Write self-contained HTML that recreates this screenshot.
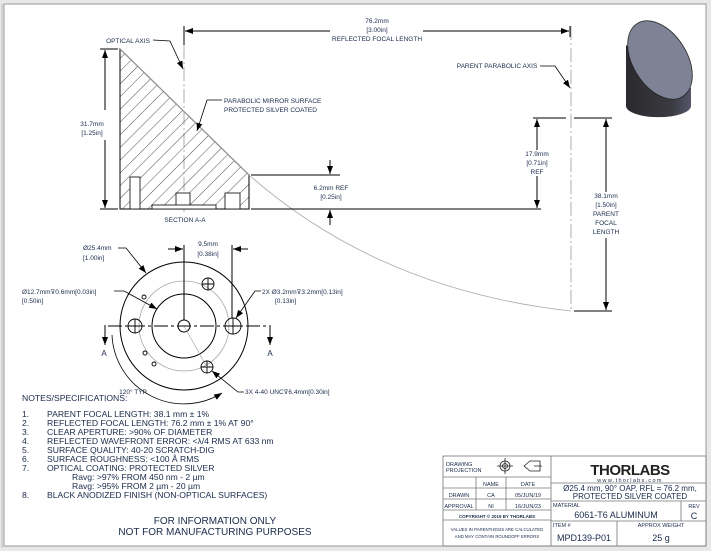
<!DOCTYPE html>
<html><head><meta charset="utf-8"><style>
body{margin:0;background:#fff;}
svg{display:block;font-family:"Liberation Sans",sans-serif;}
</style></head><body>
<svg width="711" height="551" viewBox="0 0 711 551" xmlns="http://www.w3.org/2000/svg">
<defs>
<pattern id="h" width="9" height="9" patternUnits="userSpaceOnUse" patternTransform="rotate(45)">
<line x1="0" y1="0" x2="0" y2="9" stroke="#222" stroke-width="0.8"/>
</pattern>
<marker id="a" markerWidth="8" markerHeight="6" refX="8" refY="3" orient="auto" markerUnits="userSpaceOnUse"><path d="M0,0L8,3L0,6z" fill="#000"/></marker>
<linearGradient id="cyl" x1="0" x2="1"><stop offset="0" stop-color="#2a2a2e"/><stop offset="0.7" stop-color="#3a3a40"/><stop offset="1" stop-color="#55556a"/></linearGradient>
</defs>
<rect width="711" height="551" fill="#e8e8e8"/>
<rect x="4" y="4" width="702" height="542" fill="#fff" stroke="#999" stroke-width="1"/>
<line x1="2" y1="4" x2="2" y2="548" stroke="#bbb"/>

<g font-size="6.5" fill="#1a2a4a" text-anchor="middle">
<!-- top dim -->
<line x1="184" y1="26" x2="184" y2="45" stroke="#000"/>
<line x1="570" y1="26" x2="570" y2="37" stroke="#000"/>
<line x1="330" y1="31" x2="185" y2="31" stroke="#000" marker-end="url(#a)"/>
<line x1="423" y1="31" x2="569" y2="31" stroke="#000" marker-end="url(#a)"/>
<text x="377" y="23">76.2mm</text><text x="377" y="32">[3.00in]</text><text x="377" y="41">REFLECTED FOCAL LENGTH</text>
<!-- optical axis -->
<line x1="184" y1="45" x2="184" y2="212" stroke="#999" stroke-dasharray="14,3,2,3" stroke-width="0.8"/>
<text x="128" y="43">OPTICAL AXIS</text>
<polyline points="153,40 170,41 183,69" fill="none" stroke="#000" stroke-width="0.8" marker-end="url(#a)"/>
<!-- section -->
<path d="M120,49 L249,175 L249,209 L120,209 Z" fill="url(#h)" stroke="#000" stroke-width="1"/>
<rect x="130" y="177" width="10" height="32" fill="#fff" stroke="#000" stroke-width="0.8"/>
<rect x="176" y="193" width="14" height="14" fill="#fff" stroke="#000" stroke-width="0.8"/>
<rect x="152" y="205" width="64" height="4" fill="#fff" stroke="#000" stroke-width="0.8"/>
<rect x="225" y="193" width="15" height="16" fill="#fff" stroke="#000" stroke-width="0.8"/>
<line x1="120" y1="49" x2="249" y2="175" stroke="#999" stroke-width="1.2"/>
<text x="185" y="222">SECTION A-A</text>
<polyline points="222,100 207,100 197,131" fill="none" stroke="#000" stroke-width="0.8" marker-end="url(#a)"/>
<text x="224" y="103" text-anchor="start">PARABOLIC MIRROR SURFACE</text>
<text x="224" y="112" text-anchor="start">PROTECTED SILVER COATED</text>
<!-- 31.7 dim -->
<line x1="100" y1="49" x2="118" y2="49" stroke="#000"/>
<line x1="100" y1="209" x2="118" y2="209" stroke="#000"/>
<line x1="105" y1="110" x2="105" y2="50" stroke="#000" marker-end="url(#a)"/>
<line x1="105" y1="140" x2="105" y2="208" stroke="#000" marker-end="url(#a)"/>
<text x="92" y="126">31.7mm</text><text x="92" y="135">[1.25in]</text>
<!-- parabola -->
<path d="M249,175 Q380,290 571,311" fill="none" stroke="#aaa" stroke-width="0.8"/>
<!-- ext lines -->
<line x1="251" y1="209" x2="541" y2="209" stroke="#000"/>
<line x1="251" y1="175" x2="340" y2="175" stroke="#000"/>
<line x1="533" y1="118" x2="566" y2="118" stroke="#000"/>
<line x1="574" y1="118" x2="612" y2="118" stroke="#000"/>
<line x1="574" y1="311" x2="612" y2="311" stroke="#000"/>
<line x1="330" y1="160" x2="330" y2="174" stroke="#000" marker-end="url(#a)"/>
<line x1="330" y1="225" x2="330" y2="210" stroke="#000" marker-end="url(#a)"/>
<text x="331" y="190">6.2mm REF</text><text x="331" y="199">[0.25in]</text>
<line x1="537" y1="150" x2="537" y2="119" stroke="#000" marker-end="url(#a)"/>
<line x1="537" y1="176" x2="537" y2="208" stroke="#000" marker-end="url(#a)"/>
<text x="537" y="156">17.9mm</text><text x="537" y="165">[0.71in]</text><text x="537" y="174">REF</text>
<line x1="606" y1="192" x2="606" y2="119" stroke="#000" marker-end="url(#a)"/>
<line x1="606" y1="238" x2="606" y2="310" stroke="#000" marker-end="url(#a)"/>
<text x="606" y="198">38.1mm</text><text x="606" y="207">[1.50in]</text><text x="606" y="216">PARENT</text><text x="606" y="225">FOCAL</text><text x="606" y="234">LENGTH</text>
<line x1="571" y1="26" x2="571" y2="311" stroke="#999" stroke-dasharray="14,3,2,3" stroke-width="0.8"/>
<text x="497" y="68">PARENT PARABOLIC AXIS</text>
<polyline points="540,66 555,66 570,88" fill="none" stroke="#000" stroke-width="0.8" marker-end="url(#a)"/>
<!-- cylinder -->
<path d="M626,45 L626,106 A32,11 0 0 0 691,106 L691,88 Z" fill="url(#cyl)"/>
<ellipse cx="660" cy="60" rx="27" ry="43" transform="rotate(-32 660 60)" fill="#7e8295" stroke="#222" stroke-width="0.8"/>

<!-- bottom view -->
<circle cx="184" cy="326" r="64" fill="none" stroke="#000"/>
<circle cx="184" cy="326" r="45" fill="none" stroke="#aaa" stroke-width="0.8"/>
<circle cx="184" cy="326" r="32" fill="none" stroke="#000"/>
<circle cx="184" cy="326" r="6" fill="none" stroke="#000"/>
<g fill="none" stroke="#000" stroke-width="0.9">
<circle cx="135" cy="326" r="7"/><circle cx="233" cy="326" r="8"/>
<circle cx="208" cy="284" r="6"/><circle cx="207" cy="367" r="6"/>
<path d="M128,326h14M135,319v14M225,326h16M233,318v16M202,284h12M208,278v12M201,367h12M207,361v12"/>
<circle cx="144" cy="297" r="2"/><circle cx="145" cy="353" r="2"/><circle cx="154" cy="364" r="2"/>
</g>
<line x1="184" y1="326" x2="207" y2="367" stroke="#aaa" stroke-width="0.7"/>
<line x1="108" y1="326" x2="268" y2="326" stroke="#000" stroke-dasharray="14,3,3,3" stroke-width="0.9"/>
<line x1="105" y1="325" x2="105" y2="345" stroke="#000" marker-end="url(#a)"/>
<line x1="270" y1="325" x2="270" y2="345" stroke="#000" marker-end="url(#a)"/>
<text x="104" y="356" font-size="8">A</text><text x="270" y="356" font-size="8">A</text>
<line x1="184" y1="245" x2="184" y2="320" stroke="#000"/>
<line x1="232" y1="245" x2="232" y2="318" stroke="#000"/>
<line x1="168" y1="249" x2="183" y2="249" stroke="#000" marker-end="url(#a)"/>
<line x1="248" y1="249" x2="233" y2="249" stroke="#000" marker-end="url(#a)"/>
<text x="208" y="246">9.5mm</text><text x="208" y="256">[0.38in]</text>
<text x="83" y="250" text-anchor="start">Ø25.4mm</text><text x="83" y="260" text-anchor="start">[1.00in]</text>
<polyline points="118,248 126,248 146,273" fill="none" stroke="#000" stroke-width="0.8" marker-end="url(#a)"/>
<text x="22" y="294" text-anchor="start">Ø12.7mm⊽0.6mm[0.03in]</text><text x="22" y="303" text-anchor="start">[0.50in]</text>
<polyline points="114,291 124,291 157,309" fill="none" stroke="#000" stroke-width="0.8" marker-end="url(#a)"/>
<text x="262" y="294" text-anchor="start">2X  Ø3.2mm⊽3.2mm[0.13in]</text><text x="275" y="303" text-anchor="start">[0.13in]</text>
<polyline points="261,291 255,291 236,318" fill="none" stroke="#000" stroke-width="0.8" marker-end="url(#a)"/>
<text x="245" y="394" text-anchor="start">3X 4-40 UNC⊽6.4mm[0.30in]</text>
<polyline points="244,392 238,392 212,371" fill="none" stroke="#000" stroke-width="0.8" marker-end="url(#a)"/>
<path d="M112,335 A72,72 0 0 0 222,393" fill="none" stroke="#000" stroke-width="0.8" marker-end="url(#a)"/>
<text x="133" y="394">120° TYP</text>
</g>

<g font-size="8.6" fill="#1a2a4a">
<text x="22" y="401">NOTES/SPECIFICATIONS:</text>
<text x="22" y="417">1.</text><text x="47" y="417">PARENT FOCAL LENGTH: 38.1 mm ± 1%</text>
<text x="22" y="426">2.</text><text x="47" y="426">REFLECTED FOCAL LENGTH: 76.2 mm ± 1% AT 90°</text>
<text x="22" y="435">3.</text><text x="47" y="435">CLEAR APERTURE: &gt;90% OF DIAMETER</text>
<text x="22" y="444">4.</text><text x="47" y="444">REFLECTED WAVEFRONT ERROR: &lt;λ/4 RMS AT 633 nm</text>
<text x="22" y="453">5.</text><text x="47" y="453">SURFACE QUALITY: 40-20 SCRATCH-DIG</text>
<text x="22" y="462">6.</text><text x="47" y="462">SURFACE ROUGHNESS: &lt;100 Å RMS</text>
<text x="22" y="471">7.</text><text x="47" y="471">OPTICAL COATING: PROTECTED SILVER</text>
<text x="72" y="480">Ravg: &gt;97% FROM 450 nm - 2 µm</text>
<text x="72" y="489">Ravg: &gt;95% FROM 2 µm - 20 µm</text>
<text x="22" y="498">8.</text><text x="47" y="498">BLACK ANODIZED FINISH (NON-OPTICAL SURFACES)</text>
<text x="215" y="524" font-size="10" text-anchor="middle">FOR INFORMATION ONLY</text>
<text x="215" y="535" font-size="10" text-anchor="middle">NOT FOR MANUFACTURING PURPOSES</text>
</g>

<!-- title block -->
<g stroke="#777" stroke-width="0.8" fill="none">
<rect x="443" y="456" width="263" height="90"/>
<line x1="551" y1="456" x2="551" y2="546"/>
<line x1="443" y1="477" x2="551" y2="477"/>
<line x1="443" y1="488" x2="551" y2="488"/>
<line x1="443" y1="499" x2="551" y2="499"/>
<line x1="443" y1="510" x2="551" y2="510"/>
<line x1="443" y1="520" x2="551" y2="520"/>
<line x1="476" y1="477" x2="476" y2="510"/>
<line x1="506" y1="477" x2="506" y2="510"/>
<line x1="551" y1="483" x2="706" y2="483"/>
<line x1="551" y1="501" x2="706" y2="501"/>
<line x1="551" y1="521" x2="706" y2="521"/>
<line x1="681" y1="501" x2="681" y2="521"/>
<line x1="617" y1="521" x2="617" y2="546"/>
</g>
<g fill="#1a2a4a" font-size="5.5">
<text x="446" y="466">DRAWING</text><text x="446" y="472">PROJECTION</text>
<text x="491" y="486" text-anchor="middle">NAME</text><text x="528" y="486" text-anchor="middle">DATE</text>
<text x="459" y="497" text-anchor="middle">DRAWN</text><text x="491" y="497" text-anchor="middle">CA</text><text x="528" y="497" text-anchor="middle">05/JUN/19</text>
<text x="459" y="508" text-anchor="middle">APPROVAL</text><text x="491" y="508" text-anchor="middle">NI</text><text x="528" y="508" text-anchor="middle">16/JUN/23</text>
<text x="497" y="518" text-anchor="middle" font-size="4.5" font-weight="bold">COPYRIGHT © 2019 BY THORLABS</text>
<text x="497" y="531" text-anchor="middle" font-size="4.3">VALUES IN PARENTHESIS ARE CALCULATED</text>
<text x="497" y="538" text-anchor="middle" font-size="4.3">AND MAY CONTAIN ROUNDOFF ERRORS</text>
<text x="630" y="475" text-anchor="middle" font-size="15" font-weight="bold" fill="#222" letter-spacing="-0.5">THORLABS</text>
<text x="630" y="482" text-anchor="middle" font-size="5.5" letter-spacing="1.3">www.thorlabs.com</text>
<text x="630" y="491" text-anchor="middle" font-size="8">Ø25.4 mm, 90° OAP, RFL = 76.2 mm,</text>
<text x="630" y="499" text-anchor="middle" font-size="8">PROTECTED SILVER COATED</text>
<text x="553" y="507">MATERIAL</text>
<text x="616" y="518" text-anchor="middle" font-size="9">6061-T6 ALUMINUM</text>
<text x="694" y="508" text-anchor="middle">REV</text>
<text x="694" y="519" text-anchor="middle" font-size="9">C</text>
<text x="553" y="527">ITEM #</text>
<text x="584" y="541" text-anchor="middle" font-size="9">MPD139-P01</text>
<text x="661" y="527" text-anchor="middle">APPROX WEIGHT</text>
<text x="661" y="541" text-anchor="middle" font-size="9">25 g</text>
</g>
<g fill="none" stroke="#222" stroke-width="0.8">
<circle cx="505" cy="466" r="5"/><circle cx="505" cy="466" r="2.5"/><path d="M497,466h16M505,458v16"/>
<path d="M524,466 L530,461 L540,461 L540,471 L530,471 Z M534,466h8"/>
</g>
</svg>
</body></html>
